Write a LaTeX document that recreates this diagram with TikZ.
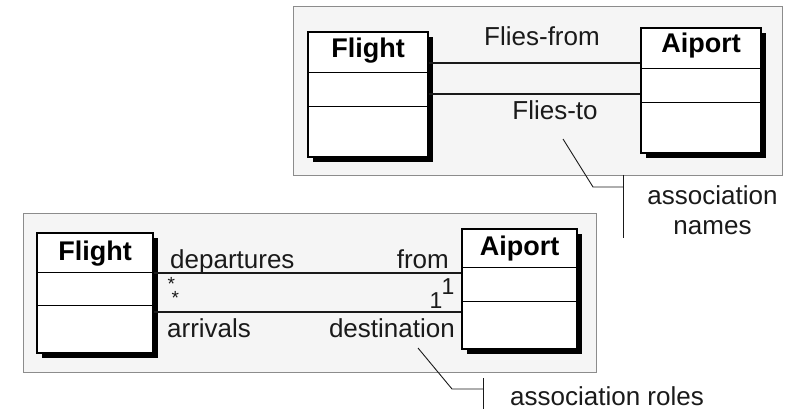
\documentclass[tikz,border=0pt]{standalone}
\usepackage{fontspec}
\setmainfont{Liberation Sans}
\usetikzlibrary{shadows}
\definecolor{panelfill}{HTML}{F5F5F5}
\definecolor{panelline}{HTML}{8C8C8C}
\definecolor{ink}{HTML}{1A1A1A}
\tikzset{
  panel/.style={draw=panelline, fill=panelfill, line width=1pt},
  classbox/.style={draw=black, fill=white, line width=1.3pt, inner sep=0pt,
    general shadow={fill=black, shadow xshift=5pt, shadow yshift=-5pt}},
  divider/.style={draw=black, line width=1.3pt},
  classname/.style={font=\fontsize{27}{32}\selectfont\bfseries, text=black, inner sep=0pt, anchor=base},
  lbl/.style={font=\fontsize{26}{31}\selectfont, text=ink, inner sep=0pt},
  mult/.style={font=\fontsize{23}{27}\selectfont, text=ink, inner sep=0pt},
  star/.style={font=\fontsize{19}{12}\selectfont, text=ink, inner sep=0pt, align=left},
  assoc/.style={draw=ink, line width=1.3pt},
  leader/.style={draw=ink, line width=0.9pt},
}
\begin{document}
\begin{tikzpicture}[x=1pt,y=-1pt]
\useasboundingbox (0,0) rectangle (804,409);

% ---------- association names ----------
\draw[panel] (293,7) rectangle (782,176);

\node[classbox, minimum width=120pt, minimum height=125pt] (fa) at (368,94.5) {};
\node[classbox, minimum width=120pt, minimum height=125pt] (aa) at (701,90.5) {};
\draw[divider] ([yshift=-41pt]fa.north west) -- ([yshift=-41pt]fa.north east);
\draw[divider] ([yshift=-75pt]fa.north west) -- ([yshift=-75pt]fa.north east);
\draw[divider] ([yshift=-41pt]aa.north west) -- ([yshift=-41pt]aa.north east);
\draw[divider] ([yshift=-75pt]aa.north west) -- ([yshift=-75pt]aa.north east);
\node[classname] (fat) at (368,58) {Flight};
\node[classname] (aat) at (701,53) {Aiport};

\coordinate (fromy) at (0,63);
\coordinate (toy) at (0,94);
\draw[assoc] (fa.east |- fromy) -- (aa.west |- fromy);
\draw[assoc] (fa.east |- toy) -- (aa.west |- toy);
\node[lbl, anchor=base] (ffrom) at (542,46) {Flies-from};
\node[lbl, anchor=base] (fto) at (555,120) {Flies-to};

\coordinate (na) at (563,139);
\coordinate (nb) at (593,187);
\coordinate (nbt) at (623,175);
\coordinate (nbb) at (623,238);
\draw[leader] (na) -- (nb) -- (nb -| nbt);
\draw[leader] (nbt) -- (nbb);
\node[lbl, anchor=base] (names1) at (712.5,205) {association};
\node[lbl, anchor=base] (names2) at (712.5,235) {names};

% ---------- association roles ----------
\draw[panel] (23,214) rectangle (596,372);

\node[classbox, minimum width=116pt, minimum height=120pt] (fb) at (95,293) {};
\node[classbox, minimum width=115pt, minimum height=120pt] (ab) at (519.5,289) {};
\draw[divider] ([yshift=-40pt]fb.north west) -- ([yshift=-40pt]fb.north east);
\draw[divider] ([yshift=-73pt]fb.north west) -- ([yshift=-73pt]fb.north east);
\draw[divider] ([yshift=-39pt]ab.north west) -- ([yshift=-39pt]ab.north east);
\draw[divider] ([yshift=-73pt]ab.north west) -- ([yshift=-73pt]ab.north east);
\node[classname] (fbt) at (95,260) {Flight};
\node[classname] (abt) at (519.5,255) {Aiport};

\coordinate (depy) at (0,273);
\coordinate (arry) at (0,312);
\draw[assoc] (fb.east |- depy) -- (ab.west |- depy);
\draw[assoc] (fb.east |- arry) -- (ab.west |- arry);

\node[lbl, anchor=base west] (dep) at (170,268) {departures};
\node[lbl, anchor=base east] (from) at (449,268) {from};
\node[lbl, anchor=base west] (arr) at (167,337) {arrivals};
\node[lbl, anchor=base east] (dest) at (455,337) {destination};
% the two many-multiplicities, stacked with a small indent
\node[star, anchor=north west] (stars) at (167.5,277) {*\\\hspace*{4pt}*};
\node[mult] (m1) at (436,301) {1};
\node[mult] (m2) at (448,287) {1};

\coordinate (ra) at (418,348);
\coordinate (rb) at (452,389);
\coordinate (rbt) at (483,378);
\coordinate (rbb) at (483,409);
\draw[leader] (ra) -- (rb) -- (rb -| rbt);
\draw[leader] (rbt) -- (rbb);
\node[lbl, anchor=base west] (roles) at (510,405) {association roles};
\end{tikzpicture}
\end{document}
